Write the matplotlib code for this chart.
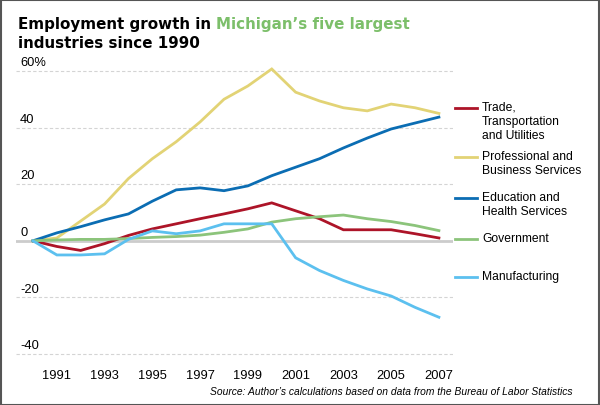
import numpy as np
import matplotlib.pyplot as plt
from matplotlib.lines import Line2D
from matplotlib.patches import Rectangle

plt.rcParams['font.family'] = ['Liberation Sans', 'DejaVu Sans']

years = list(range(1990, 2008))
trade = [0, -2, -3.4, -1, 1.9, 4.2, 6, 7.8, 9.5, 11.3, 13.4, 10.6, 7.8, 3.9, 3.9, 3.9, 2.5, 1]
professional = [0, 1, 7, 13, 22, 29, 35, 42, 50, 54.7, 60.7, 52.5, 49.4, 47, 45.9, 48.3, 47, 45]
education = [0, 2.8, 5, 7.4, 9.5, 14, 18, 18.7, 17.7, 19.4, 23, 26, 29, 32.8, 36.3, 39.5, 41.6, 43.7]
government = [0, 0.3, 0.5, 0.5, 0.8, 1.2, 1.5, 2, 3, 4.2, 6.6, 7.8, 8.5, 9.1, 7.8, 6.8, 5.4, 3.6]
manufacturing = [0, -5, -5, -4.6, 0.5, 3.5, 2.5, 3.5, 6, 6, 6, -6, -10.5, -14, -17, -19.5, -23.5, -27]

series = [trade, professional, education, government, manufacturing]
names = ['Trade,\nTransportation\nand Utilities', 'Professional and\nBusiness Services',
         'Education and\nHealth Services', 'Government', 'Manufacturing']
colors = ['#ad1428', '#e2d375', '#0b6db3', '#8cc47b', '#5cc0ef']

yticks = [-40, -20, 0, 20, 40, 60]
ytick_labels = ['-40', '-20', '0', '20', '40', '60%']
xticks = list(range(1991, 2008, 2))

W, H = 600, 406
fig = plt.figure(figsize=(6, 4.06), dpi=100)
ax = fig.add_axes([16 / W, 1 - 360.7 / H, 437 / W, 294.4 / H])

# grid lines, zero line is solid and heavier
for v in yticks:
    if v == 0:
        ax.axhline(v, color='#cccccc', lw=2, zorder=1)
    else:
        ax.axhline(v, color='#d4d4d4', lw=0.8, ls=(0, (3, 2)), zorder=1)

for s, c in zip(series, colors):
    ax.plot(years, s, color=c, lw=2, solid_joinstyle='miter', zorder=3)

ax.set_xlim(1989.29, 2007.59)
ax.set_ylim(-42, 62)
ax.set_xticks(xticks)
ax.set_xticklabels([str(x) for x in xticks], fontsize=9.3)
ax.tick_params(axis='x', length=0, pad=6.5)
ax.set_yticks([])
for side in ax.spines.values():
    side.set_visible(False)

for v, lbl in zip(yticks, ytick_labels):
    ax.annotate(lbl, (0, v), xycoords=('axes fraction', 'data'), xytext=(3, 2),
                textcoords='offset points', ha='left', va='bottom', fontsize=9.3)

# legend on the right
leg_y = [109, 158, 199, 240, 278]
for y, name, c in zip(leg_y, names, colors):
    fig.add_artist(Line2D([455 / W, 477 / W], [1 - y / H, 1 - y / H], color=c, lw=2))
    fig.text(482 / W, 1 - (y - 7) / H, name, ha='left', va='top', fontsize=8.7,
             linespacing=1.2)

# title with highlighted state name
tfont = dict(fontsize=10.9, fontweight='bold', family='DejaVu Sans')
renderer = fig.canvas.get_renderer()
t1 = fig.text(18 / W, 1 - 29 / H, 'Employment growth in ', ha='left', va='baseline', **tfont)
bb = t1.get_window_extent(renderer)
fig.text(bb.x1 / W, 1 - 29 / H, 'Michigan\u2019s five largest', color='#7cbf6a',
         ha='left', va='baseline', **tfont)
fig.text(18 / W, 1 - 48 / H, 'industries since 1990', ha='left', va='baseline', **tfont)

fig.text(572 / W, 1 - 392 / H,
         'Source: Author\u2019s calculations based on data from the Bureau of Labor Statistics',
         ha='right', va='center', fontsize=7.4, style='italic')

fig.add_artist(Rectangle((0.5 / W, 0.5 / H), 598 / W, 404.5 / H, transform=fig.transFigure,
                         fill=False, edgecolor='#555555', lw=1.5))

fig.savefig('out.png', dpi=100)
